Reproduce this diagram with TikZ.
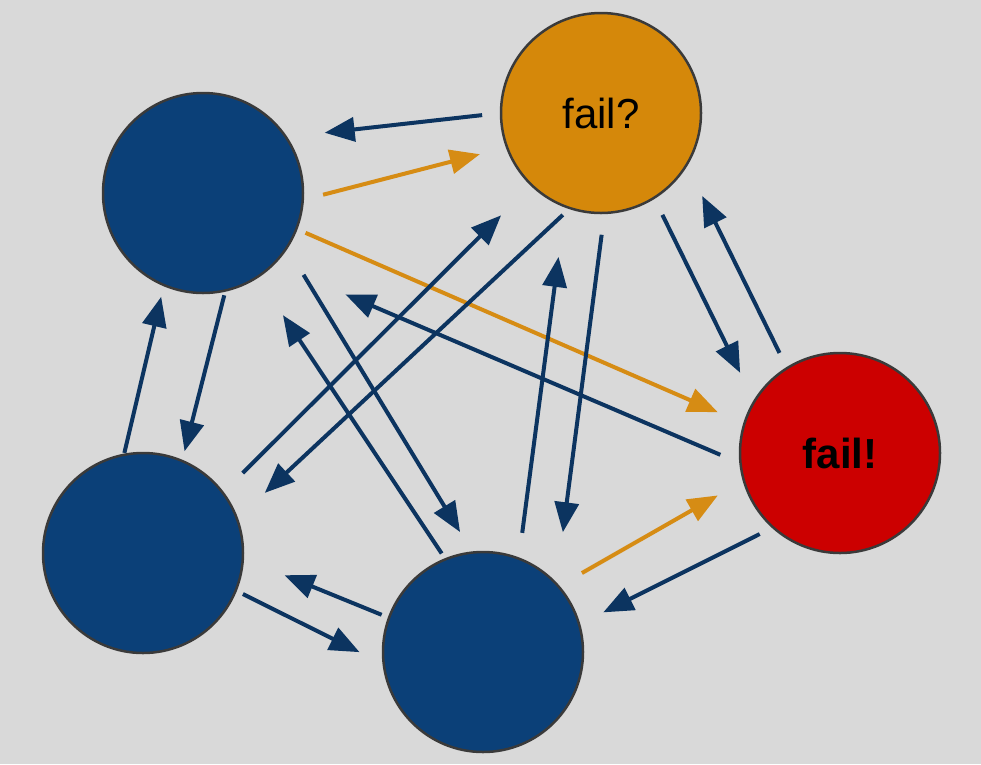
\documentclass[tikz,border=0pt]{standalone}
\usepackage{fontspec}
\setmainfont{Liberation Sans}
\usetikzlibrary{arrows.meta}
\definecolor{bggray}{RGB}{217,217,217}
\definecolor{rimgray}{RGB}{58,58,58}
\definecolor{nodeblue}{RGB}{11,64,120}
\definecolor{nodeorange}{RGB}{213,136,10}
\definecolor{nodered}{RGB}{204,0,0}
\definecolor{linkblue}{RGB}{12,52,96}
\definecolor{linkorange}{RGB}{214,140,20}

\begin{document}
\begin{tikzpicture}[x=1pt,y=-1pt,
  peer/.style={circle,draw=rimgray,line width=2.5pt,minimum size=200pt,
    inner sep=0pt,outer sep=0pt,font=\fontsize{42}{48}\selectfont},
  link/.style={draw=linkblue,line width=4pt,-{Triangle[length=30pt,width=24pt]}},
  hot/.style={link,draw=linkorange}]
% background
\fill[bggray] (0,0) rectangle (981,764);
\useasboundingbox (0,0) rectangle (981,764);
% peers
\node[peer,fill=nodeblue] (A) at (203,193) {};
\node[peer,fill=nodeorange] (B) at (601,113) {fail?};
\node[peer,fill=nodered] (C) at (840,453) {\bfseries fail!};
\node[peer,fill=nodeblue] (D) at (143,553) {};
\node[peer,fill=nodeblue] (E) at (483,652) {};
% A <-> B
\draw[link, shorten <=19pt, shorten >=39pt] (B.180) -- (A.34);
\draw[hot, shorten <=21pt, shorten >=28pt] (A.-4) -- (B.200);
% A <-> C
\draw[hot, shorten <=10pt, shorten >=29pt] (A.-21) -- (C.163);
\draw[link, shorten <=22pt, shorten >=78pt] (C.186) -- (A.-45.5);
% B <-> D
\draw[link, shorten <=28pt, shorten >=43pt] (D.37) -- (B.226);
\draw[link, shorten <=10pt, shorten >=38pt] (B.252) -- (D.20);
% A <-> E
\draw[link, shorten <=32pt, shorten >=24pt] (A.-33) -- (E.96);
\draw[link, shorten <=7pt, shorten >=46pt] (E.112) -- (A.-57);
% B <-> E
\draw[link, shorten <=26pt, shorten >=51pt] (E.69) -- (B.249);
\draw[link, shorten <=22pt, shorten >=52pt] (B.272) -- (E.43);
% B <-> C
\draw[link, shorten <=19pt, shorten >=32pt] (B.-58) -- (C.149);
\draw[link, shorten <=17pt, shorten >=35pt] (C.122) -- (B.-31);
% E <-> C
\draw[hot, shorten <=27pt, shorten >=30pt] (E.41) -- (C.196);
\draw[link, shorten <=15pt, shorten >=27pt] (C.228) -- (E.16);
% D <-> E
\draw[link, shorten <=8pt, shorten >=27pt] (D.-22) -- (E.187);
\draw[link, shorten <=8pt, shorten >=45pt] (E.160) -- (D.-3);
% A <-> D
\draw[link, shorten <=5pt, shorten >=10pt] (A.-77) -- (D.67);
\draw[link, shorten <=2pt, shorten >=12pt] (D.101) -- (A.247);
\end{tikzpicture}
\end{document}
